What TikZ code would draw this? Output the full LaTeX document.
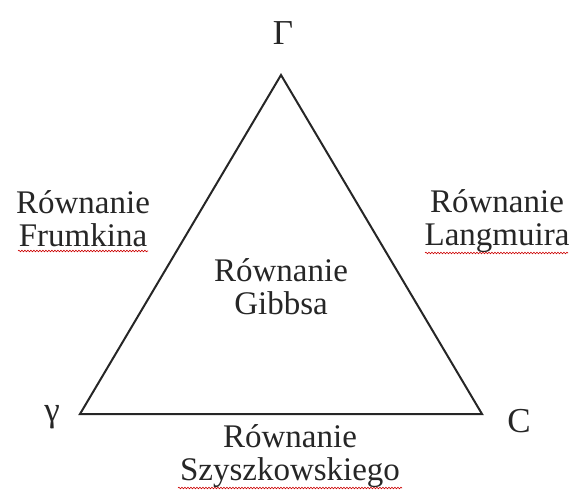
\documentclass[tikz,border=0pt]{standalone}
\usepackage{fontspec}
\setmainfont{Liberation Serif}
\usetikzlibrary{decorations.pathmorphing}
\begin{document}
\begin{tikzpicture}[x=1pt,y=-1pt,
  lbl/.style={font=\fontsize{33}{33}\selectfont, align=center, inner sep=0pt, text=black!85},
  sym/.style={font=\fontsize{35}{36}\selectfont, inner sep=0pt, text=black!85},
  edge/.style={line width=2pt, draw=black!85, line join=miter},
  squiggle/.style={draw=red!80!black, line width=0.6pt, decorate, decoration={snake, amplitude=0.8pt, segment length=3pt}}]
\useasboundingbox (0,0) rectangle (577,489);
\coordinate (top) at (281,75);
\coordinate (left) at (80,414);
\coordinate (right) at (482,414);
\draw[edge] (top) -- (left) -- (right) -- cycle;
\node[sym] (Gam) at (283,33) {Γ};
\node[sym] (gam) at (52,417) {γ};
\node[sym] (C) at (519,421) {C};
\node[lbl] (frum) at (83,219) {Równanie\\Frumkina};
\node[lbl] (lang) at (497,221) {Równanie\\Langmuira};
\node[lbl] (gibbs) at (281,287) {Równanie\\Gibbsa};
\node[lbl] (szysz) at (290,456) {Równanie\\Szyszkowskiego};
\coordinate (f1) at (18,251); \coordinate (f2) at (148,251);
\coordinate (l1) at (425,253); \coordinate (l2) at (568,253);
\coordinate (s1) at (178,488); \coordinate (s2) at (402,488);
\draw[squiggle] (f1) -- (f2);
\draw[squiggle] (l1) -- (l2);
\draw[squiggle] (s1) -- (s2);
\end{tikzpicture}
\end{document}
